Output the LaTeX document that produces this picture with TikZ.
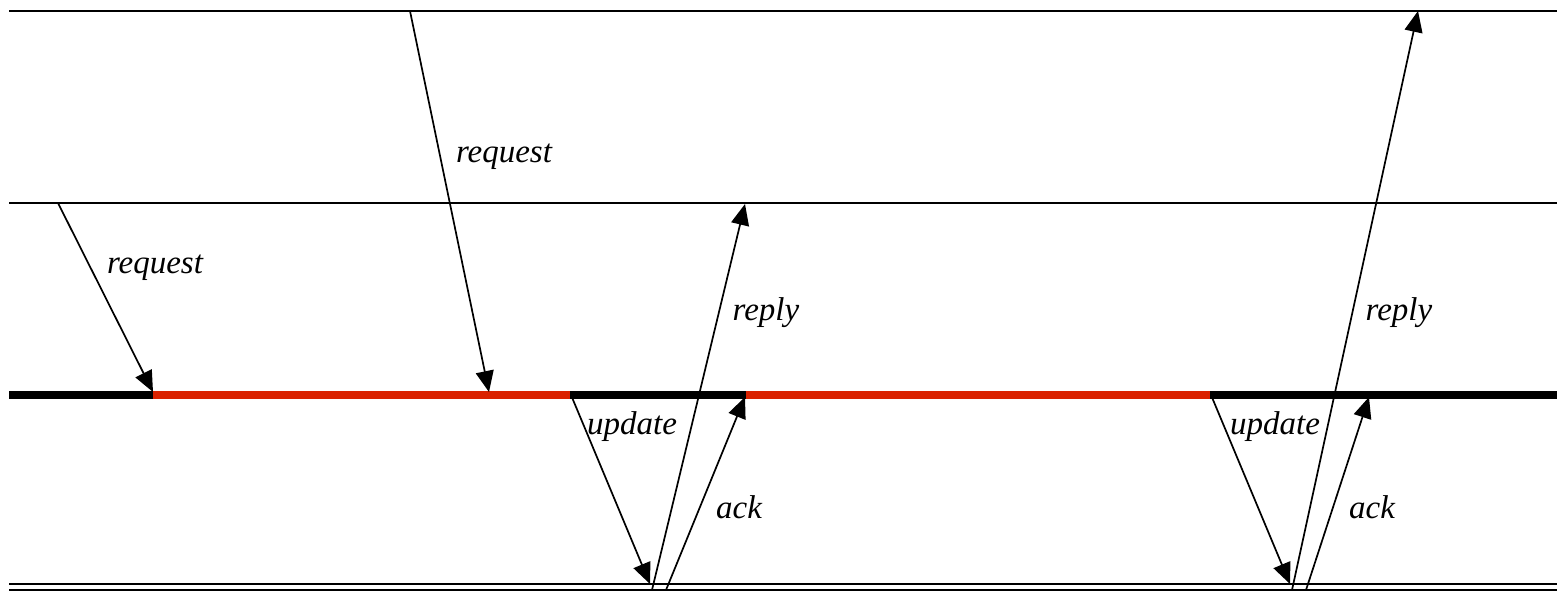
\documentclass[tikz,border=0pt]{standalone}
\usepackage{fontspec}
\setmainfont{Liberation Serif}
\usetikzlibrary{arrows.meta}
\definecolor{busyred}{RGB}{218,34,0}
\begin{document}
\begin{tikzpicture}[x=1pt,y=-1pt,
  msg/.style={line width=1.7pt,-{Triangle[length=21pt,width=18pt]}},
  lbl/.style={font=\fontsize{33}{38}\selectfont\itshape, inner sep=0pt},
  lane/.style={line width=2pt},
  thickblack/.style={line width=8pt,black},
  thickred/.style={line width=8pt,busyred}]
\useasboundingbox (0,0) rectangle (1557,591);
% lanes
\coordinate (TL) at (9,11);   \coordinate (TR) at (1557,11);
\coordinate (ML) at (9,203);  \coordinate (MR) at (1557,203);
\coordinate (BL1) at (9,584); \coordinate (BR1) at (1557,584);
\coordinate (BL2) at (9,590); \coordinate (BR2) at (1557,590);
\draw[lane] (TL) -- (TR);
\draw[lane] (ML) -- (MR);
\draw[lane] (BL1) -- (BR1);
\draw[lane] (BL2) -- (BR2);
% thick timeline
\coordinate (S0) at (9,395);
\coordinate (S1) at (153,395);
\coordinate (S2) at (570,395);
\coordinate (S3) at (746,395);
\coordinate (S4) at (1210,395);
\coordinate (S5) at (1557,395);
\draw[thickblack] (S0) -- (S1);
\draw[thickred] (S1) -- (S2);
\draw[thickblack] (S2) -- (S3);
\draw[thickred] (S3) -- (S4);
\draw[thickblack] (S4) -- (S5);
% message end points
\coordinate (r1s) at (58,203);   \coordinate (r1e) at (153,392);
\coordinate (r2s) at (410,11);   \coordinate (r2e) at (489,392);
\coordinate (u1s) at (571,395);  \coordinate (u1e) at (650,584);
\coordinate (p1s) at (652,590);  \coordinate (p1e) at (745,204);
\coordinate (a1s) at (666,590);  \coordinate (a1e) at (745,397);
\coordinate (u2s) at (1211,395); \coordinate (u2e) at (1290,584);
\coordinate (p2s) at (1292,590); \coordinate (p2e) at (1418,11);
\coordinate (a2s) at (1306,590); \coordinate (a2e) at (1369,397);
\draw[msg] (r1s) -- (r1e);
\draw[msg] (r2s) -- (r2e);
\draw[msg] (u1s) -- (u1e);
\draw[msg] (p1s) -- (p1e);
\draw[msg] (a1s) -- (a1e);
\draw[msg] (u2s) -- (u2e);
\draw[msg] (p2s) -- (p2e);
\draw[msg] (a2s) -- (a2e);
% labels
\node[lbl] (l1) at (155,268) {request};
\node[lbl] (l2) at (504,157) {request};
\node[lbl] (l3) at (766,313) {reply};
\node[lbl] (l4) at (1399,313) {reply};
\node[lbl] (l5) at (632,427) {update};
\node[lbl] (l6) at (739,507) {ack};
\node[lbl] (l7) at (1275,427) {update};
\node[lbl] (l8) at (1372,507) {ack};
\end{tikzpicture}
\end{document}
